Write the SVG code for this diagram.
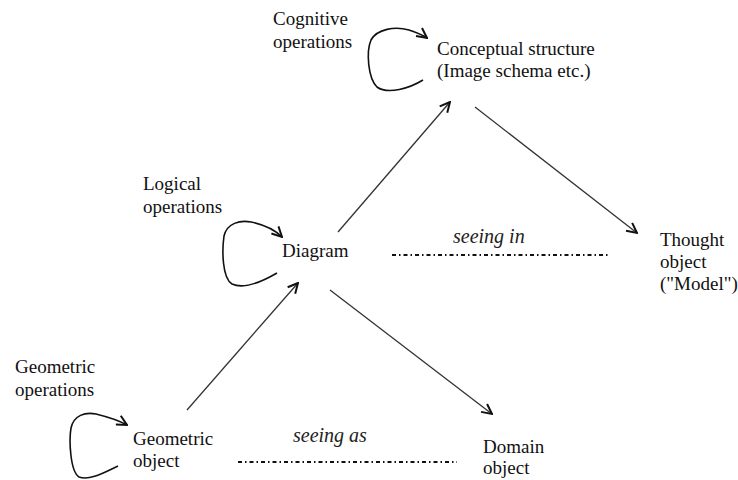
<svg xmlns="http://www.w3.org/2000/svg" width="738" height="480" viewBox="0 0 738 480">
<style>
text{font-family:'Liberation Serif','DejaVu Serif',serif}
.t{font-size:19px;fill:#111}
.i{font-size:20px;font-style:italic;fill:#222}
.a{stroke:#333;stroke-width:1.3;fill:none}
.l{stroke:#111;stroke-width:1.6;fill:none;stroke-linejoin:round}
.d{stroke:#111;stroke-width:1.8;fill:none;stroke-dasharray:4 3 1.5 3}
</style>
<defs>
<marker id="arr" viewBox="0 0 12 12" refX="11" refY="6" markerWidth="12" markerHeight="12" orient="auto" markerUnits="userSpaceOnUse">
<path d="M1,1 L11,6 L1,11" fill="none" stroke="#111" stroke-width="2"/>
</marker>
</defs>
<g id="cognitive-operations"><text class="t" x="273" y="25">Cognitive</text><text class="t" x="273" y="48">operations</text></g>
<g id="conceptual-structure"><text class="t" x="437" y="55">Conceptual structure</text><text class="t" x="437" y="77">(Image schema etc.)</text></g>
<g id="logical-operations"><text class="t" x="143" y="190">Logical</text><text class="t" x="143" y="213">operations</text></g>
<g id="diagram"><text class="t" x="282" y="257">Diagram</text></g>
<g id="thought-object"><text class="t" x="660" y="246">Thought</text><text class="t" x="660" y="268">object</text><text class="t" x="660" y="290">("Model")</text></g>
<g id="geometric-operations"><text class="t" x="15" y="373">Geometric</text><text class="t" x="15" y="396">operations</text></g>
<g id="geometric-object"><text class="t" x="133" y="445">Geometric</text><text class="t" x="133" y="467">object</text></g>
<g id="domain-object"><text class="t" x="483" y="453">Domain</text><text class="t" x="483" y="474">object</text></g>
<g id="connectors">
<line class="a" x1="187" y1="410" x2="298" y2="283" marker-end="url(#arr)"/>
<line class="a" x1="338" y1="232" x2="450" y2="102" marker-end="url(#arr)"/>
<line class="a" x1="475" y1="107" x2="637" y2="233" marker-end="url(#arr)"/>
<line class="a" x1="330" y1="290" x2="492" y2="414" marker-end="url(#arr)"/>
<path class="l" d="M423,80 C410,88 388,95 377,87 C368,78 366,52 371,40 C377,29 395,26 409,30 C417,33 423,35 427,38" marker-end="url(#arr)"/>
<path class="l" d="M277,273 C265,280 245,290 232,284 C222,278 222,250 224,236 C227,223 240,220 251,222 C265,225 276,231 282,237" marker-end="url(#arr)"/>
<path class="l" d="M118,466 C105,472 90,481 79,477 C70,471 69,440 71,428 C74,415 85,412 96,414 C108,417 120,421 127,425" marker-end="url(#arr)"/>
<line class="d" x1="392" y1="255" x2="610" y2="255"/>
<text class="i" x="453" y="243">seeing in</text>
<line class="d" x1="238" y1="462" x2="457" y2="462"/>
<text class="i" x="293" y="442">seeing as</text>
</g>
</svg>
